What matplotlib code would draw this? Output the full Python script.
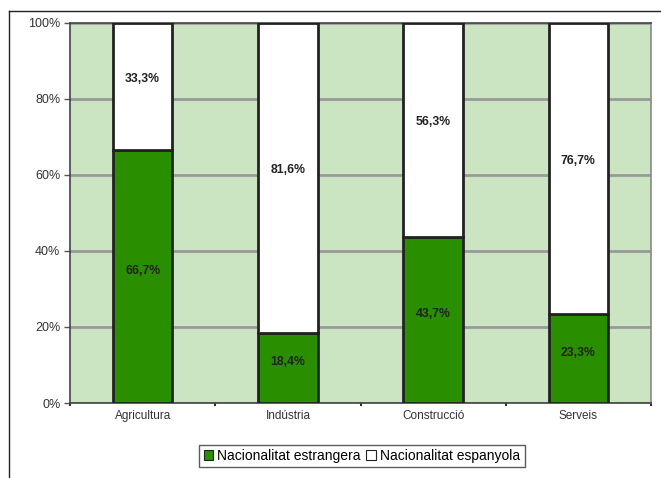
import numpy as np
import matplotlib.pyplot as plt
from matplotlib.lines import Line2D

# Data
categories = ["Agricultura", "Indústria", "Construcció", "Serveis"]
estrangera = np.array([66.7, 18.4, 43.7, 23.3])
espanyola = np.array([33.3, 81.6, 56.3, 76.7])
series_names = ["Nacionalitat estrangera", "Nacionalitat espanyola"]

green = "#2a8f00"
bg = "#cbe4c2"

plt.rcParams["font.family"] = ["Liberation Sans", "DejaVu Sans"]

fig = plt.figure(figsize=(6.61, 4.78), dpi=100)
ax = fig.add_axes([0.1059, 0.1569, 0.8790, 0.7950])
ax.set_facecolor(bg)

x = np.arange(len(categories))
w = 0.41
b1 = ax.bar(x, estrangera, w, color=green, edgecolor="#222222", linewidth=2, label=series_names[0], zorder=3)
b2 = ax.bar(x, espanyola, w, bottom=estrangera, color="white", edgecolor="#222222", linewidth=2,
            label=series_names[1], zorder=3)

def fmt(v):
    return ("%.1f%%" % v).replace(".", ",")

for i in range(len(categories)):
    ax.text(x[i], estrangera[i] / 2 + 1.5, fmt(estrangera[i]), ha="center", va="center",
            fontsize=8.8, fontweight="bold", color="#222222", zorder=4)
    ax.text(x[i], estrangera[i] + espanyola[i] / 2 + 2, fmt(espanyola[i]), ha="center", va="center",
            fontsize=8.8, fontweight="bold", color="#222222", zorder=4)

ax.set_xlim(-0.5, len(categories) - 0.5)
ax.set_ylim(0, 100)
ax.set_yticks(np.arange(0, 101, 20))
ax.set_yticklabels(["%d%%" % v for v in range(0, 101, 20)], fontsize=9, color="#333333")
ax.set_xticks(x)
ax.set_xticklabels(categories, fontsize=8.5, color="#333333")
ax.tick_params(axis="x", length=0, pad=5)
ax.tick_params(axis="y", length=4, width=1, color="#555555", pad=3)
ax.set_xticks(np.arange(-0.5, len(categories), 1.0), minor=True)
ax.tick_params(axis="x", which="minor", length=2, width=1.5, color="#333333", direction="out")
ax.yaxis.grid(True, color="#999999", linewidth=2, zorder=1)
ax.set_axisbelow(True)
for side in ["left", "bottom", "top"]:
    ax.spines[side].set_color("#444444")
    ax.spines[side].set_linewidth(1.2)
ax.spines["right"].set_color("#888888")
ax.spines["right"].set_linewidth(1.2)

leg = fig.legend(handles=[b1, b2], labels=series_names, loc="center",
                 bbox_to_anchor=(362 / 661, 1 - 456 / 478), ncol=2, fontsize=10,
                 frameon=True, fancybox=False, edgecolor="#333333", handlelength=0.7,
                 handleheight=0.7, handletextpad=0.3, columnspacing=0.4, borderpad=0.3,
                 borderaxespad=0)
leg.get_frame().set_linewidth(1)
for h in leg.legend_handles:
    h.set_linewidth(0.8)
    h.set_edgecolor("#222222")

# outer frame lines (top and left)
fig.add_artist(Line2D([9 / 661, 1], [1 - 11 / 478, 1 - 11 / 478], color="#222222", linewidth=1,
                      transform=fig.transFigure))
fig.add_artist(Line2D([9 / 661, 9 / 661], [0, 1 - 11 / 478], color="#222222", linewidth=1,
                      transform=fig.transFigure))

fig.savefig("out.png", dpi=100)
